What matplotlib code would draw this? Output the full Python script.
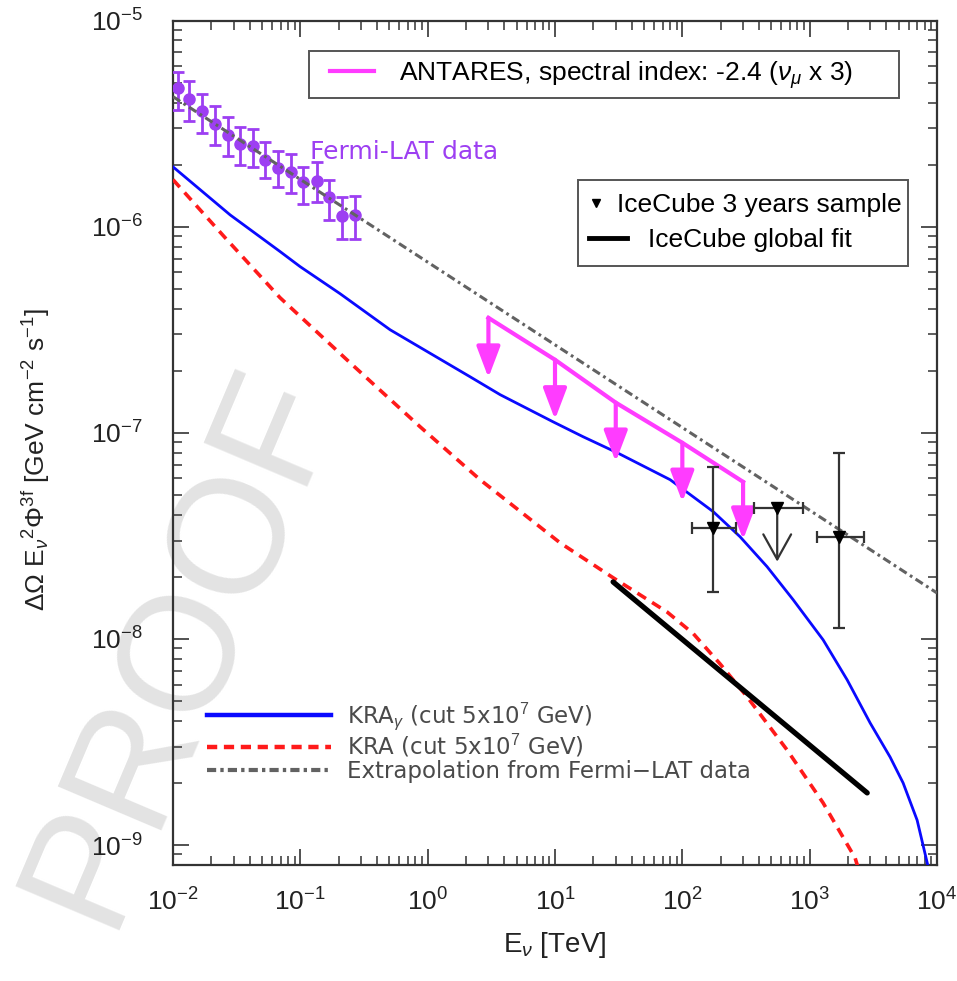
import matplotlib
matplotlib.use("Agg")
import matplotlib.pyplot as plt
from matplotlib.lines import Line2D
from matplotlib.patches import Rectangle

plt.rcParams['font.family'] = ['Liberation Sans', 'DejaVu Sans']
plt.rcParams['mathtext.fontset'] = 'custom'
plt.rcParams['mathtext.rm'] = 'Liberation Sans'
plt.rcParams['mathtext.it'] = 'Liberation Sans:italic'
plt.rcParams['mathtext.bf'] = 'Liberation Sans:bold'

# ---------------- data ----------------
# Fermi-LAT data points (E in TeV)
fermi_E = [0.0109, 0.0134, 0.0169, 0.0214, 0.0271, 0.0336, 0.0425, 0.0528,
           0.0668, 0.0845, 0.105, 0.135, 0.168, 0.213, 0.269]
fermi_flux = [4.73e-6, 4.14e-6, 3.62e-6, 3.16e-6, 2.77e-6, 2.53e-6, 2.45e-6, 2.11e-6,
              1.93e-6, 1.85e-6, 1.64e-6, 1.67e-6, 1.40e-6, 1.13e-6, 1.14e-6]
fermi_hi = [5.60e-6, 5.06e-6, 4.38e-6, 3.83e-6, 3.42e-6, 3.06e-6, 2.99e-6, 2.56e-6,
            2.34e-6, 2.24e-6, 1.95e-6, 2.05e-6, 1.69e-6, 1.40e-6, 1.41e-6]
fermi_lo = [3.70e-6, 3.24e-6, 2.86e-6, 2.50e-6, 2.19e-6, 2.00e-6, 1.95e-6, 1.73e-6,
            1.55e-6, 1.46e-6, 1.29e-6, 1.32e-6, 1.08e-6, 8.75e-7, 8.75e-7]

# KRA-gamma model (cut 5x10^7 GeV)
kra_g_E = [0.01, 0.0281, 0.0693, 0.0995, 0.205, 0.507, 2.15, 3.71, 9.66, 16.6, 30.8,
           80.2, 175, 284, 463, 741, 1276, 1972, 2985, 4285, 5420, 6982, 8531]
kra_g_flux = [1.95e-6, 1.14e-6, 7.57e-7, 6.40e-7, 4.73e-7, 3.16e-7, 1.87e-7, 1.53e-7,
              1.13e-7, 9.57e-8, 8.00e-8, 5.92e-8, 4.14e-8, 3.13e-8, 2.24e-8, 1.55e-8,
              9.89e-9, 6.32e-9, 3.91e-9, 2.67e-9, 2.00e-9, 1.32e-9, 7.82e-10]

# KRA model (cut 5x10^7 GeV)
kra_E = [0.01, 0.0256, 0.0693, 0.245, 0.871, 2.58, 11.0, 28.6, 76.0, 122, 198, 323,
         665, 1276, 2275, 2404]
kra_flux = [1.69e-6, 8.85e-7, 4.52e-7, 2.19e-7, 1.07e-7, 5.92e-8, 2.92e-8, 1.98e-8,
            1.35e-8, 1.06e-8, 7.56e-9, 5.23e-9, 2.89e-9, 1.60e-9, 8.65e-10, 7.73e-10]

# Extrapolation from Fermi-LAT data
extr_E = [0.01, 1.0e4]
extr_flux = [4.27e-6, 1.67e-8]

# IceCube global fit
gf_E = [28.6, 2830]
gf_flux = [1.89e-8, 1.79e-9]

# ANTARES upper limits (spectral index -2.4, nu_mu x 3)
antares_E = [3, 10, 30, 100, 300]
antares_ul = [3.61e-7, 2.26e-7, 1.40e-7, 8.94e-8, 5.78e-8]
antares_tip = [1.85e-7, 1.16e-7, 7.23e-8, 4.62e-8, 3.03e-8]

# IceCube 3 years sample
ic_E = [175, 1706]
ic_flux = [3.46e-8, 3.13e-8]
ic_E_lo = [119, 1146]
ic_E_hi = [265, 2680]
ic_flux_lo = [1.69e-8, 1.13e-8]
ic_flux_hi = [6.84e-8, 8.0e-8]
ic_ul_E = [556]
ic_ul_flux = [4.33e-8]
ic_ul_E_lo = [366]
ic_ul_E_hi = [889]
ic_ul_tip = [2.37e-8]

# ---------------- styles ----------------
FERMI_C = '#9d3ff2'
BLUE = '#0a0aff'
RED = '#ff1a1a'
GRAY = '#626262'
MAG = '#ff3cff'
DARK = '#333333'
RED_LS = (0, (2.8, 2.0))
GRAY_LS = (0, (2.8, 1.3, 0.9, 1.3))

fig = plt.figure(figsize=(9.57, 9.81), dpi=100)
fig.patch.set_facecolor('white')

# watermark
fig.text(182 / 957, 1 - 645 / 981, 'PROOF', rotation=67, fontsize=118,
         color='#e3e3e3', ha='center', va='center', rotation_mode='anchor',
         zorder=-5)

ax = fig.add_axes([173 / 957, 1 - 865 / 981, (937 - 173) / 957, (865 - 20.5) / 981])
ax.set_facecolor('none')
ax.set_xscale('log')
ax.set_yscale('log')
ax.set_xlim(1e-2, 1e4)
ax.set_ylim(8.0e-10, 1e-5)

# Fermi points
ax.errorbar(fermi_E, fermi_flux,
            yerr=[[f - l for f, l in zip(fermi_flux, fermi_lo)],
                  [h - f for f, h in zip(fermi_flux, fermi_hi)]],
            fmt='o', color=FERMI_C, ms=8, elinewidth=2, capsize=4.5, capthick=2,
            zorder=3)
ax.text(0.119, 2.31e-6, 'Fermi-LAT data', color=FERMI_C, fontsize=18,
        family='DejaVu Sans', ha='left', va='center')

# model curves
l_kg, = ax.plot(kra_g_E, kra_g_flux, color=BLUE, lw=2.0, zorder=4)
l_k, = ax.plot(kra_E, kra_flux, color=RED, lw=2.6, linestyle=RED_LS, zorder=4)
l_ex, = ax.plot(extr_E, extr_flux, color=GRAY, lw=2.2, linestyle=GRAY_LS, zorder=5)

# IceCube global fit
ax.plot(gf_E, gf_flux, color='black', lw=3.8, solid_capstyle='round', zorder=6)

# ANTARES
ax.plot(antares_E, antares_ul, color=MAG, lw=3, zorder=6)
for e, u, t in zip(antares_E, antares_ul, antares_tip):
    ax.annotate('', xy=(e, t), xytext=(e, u),
                arrowprops=dict(arrowstyle='-|>,head_length=0.95,head_width=0.36',
                                color=MAG, lw=3, mutation_scale=20,
                                shrinkA=0, shrinkB=0), zorder=6)

# IceCube 3 years sample
ax.errorbar(ic_E, ic_flux,
            xerr=[[e - l for e, l in zip(ic_E, ic_E_lo)],
                  [h - e for e, h in zip(ic_E, ic_E_hi)]],
            yerr=[[f - l for f, l in zip(ic_flux, ic_flux_lo)],
                  [h - f for f, h in zip(ic_flux, ic_flux_hi)]],
            fmt='v', color=DARK, mfc='black', mec='black', ms=9, elinewidth=1.6,
            capsize=4.5, capthick=1.6, zorder=7)
ax.errorbar(ic_ul_E, ic_ul_flux,
            xerr=[[e - l for e, l in zip(ic_ul_E, ic_ul_E_lo)],
                  [h - e for e, h in zip(ic_ul_E, ic_ul_E_hi)]],
            fmt='v', color=DARK, mfc='black', mec='black', ms=9, elinewidth=1.6,
            capsize=4.5, capthick=1.6, zorder=7)
for e, f, t in zip(ic_ul_E, ic_ul_flux, ic_ul_tip):
    ax.annotate('', xy=(e, t), xytext=(e, f),
                arrowprops=dict(arrowstyle='->,head_length=0.9,head_width=0.5',
                                color=DARK, lw=1.6, mutation_scale=20,
                                shrinkA=0, shrinkB=0), zorder=7)

# axes styling
for s in ax.spines.values():
    s.set_linewidth(1.6)
    s.set_color(DARK)
ax.tick_params(which='both', direction='in', top=True, right=True, colors=DARK,
               labelcolor='#222222')
ax.tick_params(which='major', length=11.5, width=1.2, labelsize=19)
ax.tick_params(which='minor', length=6.5, width=1.1)
ax.tick_params(axis='y', which='major', pad=22)
ax.tick_params(axis='x', which='major', pad=17)

ax.set_xlabel(r'$\mathrm{E}_{\nu}$ [TeV]', fontsize=20, color='#222222', labelpad=10)
ax.set_ylabel(r'$\Delta\Omega\ \mathrm{E}_{\nu}{}^{2}\Phi^{\mathrm{3f}}$ [GeV cm$^{-2}$ s$^{-1}$]',
              fontsize=19, color='#222222')
ax.yaxis.set_label_coords(-0.158, 0.48)

# legend frames (axes fraction)
ax.add_patch(Rectangle((0.178, 0.9088), 0.772, 0.0545, transform=ax.transAxes,
                       facecolor='white', edgecolor='#555555', lw=1.4, zorder=8))
ax.add_patch(Rectangle((0.530, 0.7093), 0.432, 0.1018, transform=ax.transAxes,
                       facecolor='white', edgecolor='#555555', lw=1.4, zorder=8))

leg_kw = dict(frameon=False, borderaxespad=0, borderpad=0, fontsize=19)

leg1 = ax.legend([Line2D([], [], color=MAG, lw=3)],
                 [r'ANTARES, spectral index: -2.4 ($\nu_{\mu}$ x 3)'],
                 loc='center left', bbox_to_anchor=(0.2055, 0.9355),
                 handlelength=1.67, handletextpad=0.93, **leg_kw)
leg1.set_zorder(9)
ax.add_artist(leg1)

leg2a = ax.legend([Line2D([], [], color='black', marker='v', ls='none', ms=6)],
                  ['IceCube 3 years sample'],
                  loc='center left', bbox_to_anchor=(0.5445, 0.7815),
                  handlelength=0.55, handletextpad=0.5, **leg_kw)
leg2a.set_zorder(9)
ax.add_artist(leg2a)

leg2b = ax.legend([Line2D([], [], color='black', lw=3.5)],
                  ['IceCube global fit'],
                  loc='center left', bbox_to_anchor=(0.5445, 0.7401),
                  handlelength=1.45, handletextpad=0.8, **leg_kw)
leg2b.set_zorder(9)
ax.add_artist(leg2b)

leg3 = ax.legend([Line2D([], [], color=BLUE, lw=3.2),
                  Line2D([], [], color=RED, lw=3.2, linestyle=(0, (2.3, 1.5))),
                  Line2D([], [], color=GRAY, lw=3.0, linestyle=(0, (2.2, 1.0, 0.8, 1.0)))],
                 [r'KRA$_{\gamma}$ (cut 5x10$^{7}$ GeV)',
                  r'KRA (cut 5x10$^{7}$ GeV)',
                  'Extrapolation from Fermi\u2212LAT data'],
                 loc='center left', bbox_to_anchor=(0.0445, 0.1460),
                 borderaxespad=0, borderpad=0, frameon=False,
                 prop={'family': 'DejaVu Sans', 'size': 16.5}, labelcolor='#4a4a4a',
                 handlelength=5.4, handletextpad=0.72, labelspacing=0.0)

fig.savefig('out.png', dpi=100, facecolor='white')
